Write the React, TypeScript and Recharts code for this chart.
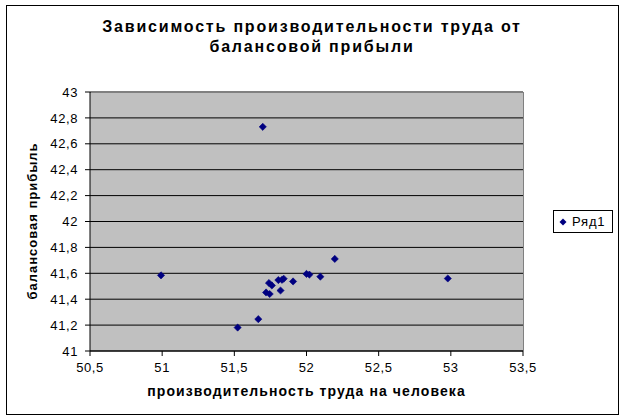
import React from "react";
import { ScatterChart, Scatter, XAxis, YAxis, CartesianGrid } from "recharts";

const productivity = [51.697, 50.992, 51.523, 51.666, 51.72, 51.745, 51.74, 51.76, 51.82, 51.805, 51.83, 51.842, 51.907, 52.0, 52.02, 52.096, 52.196, 52.979];
const profit = [42.731, 41.584, 41.181, 41.246, 41.452, 41.44, 41.525, 41.506, 41.467, 41.548, 41.55, 41.558, 41.537, 41.595, 41.59, 41.574, 41.711, 41.56];
const xTicks = [50.5, 51, 51.5, 52, 52.5, 53, 53.5];
const yTicks = [41, 41.2, 41.4, 41.6, 41.8, 42, 42.2, 42.4, 42.6, 42.8, 43];
const seriesName = "Ряд1";
const titleLines = ["Зависимость производительности труда от", "балансовой прибыли"];
const xTitle = "производительность труда на человека";
const yTitle = "балансовая прибыль";

const data = productivity.map((x, i) => ({ x, y: profit[i] }));

const fmt = (v: number) => String(v).replace(".", ",");
const FONT = "'Liberation Sans', Arial, sans-serif";

const Diamond = (props: any) => {
  const { cx, cy } = props;
  if (cx == null || cy == null) return null;
  const r = 3.6;
  return <polygon points={`${cx},${cy - r} ${cx + r},${cy} ${cx},${cy + r} ${cx - r},${cy}`} fill="#000080" stroke="#000080" strokeWidth={0.6} />;
};

export default function App() {
  return (
    <div style={{ position: "absolute", left: 0, top: 0, width: 626, height: 420, background: "#fff" }}>
      <div style={{ position: "absolute", left: 6, top: 5, width: 613, height: 410, border: "1px solid #000", boxSizing: "border-box" }} />
      <div style={{ position: "absolute", left: 0, top: 17, width: 624, textAlign: "center", fontFamily: FONT, fontWeight: "bold", fontSize: 16, letterSpacing: 1.8, lineHeight: "20px", color: "#000" }}>
        {titleLines.map((l, i) => <div key={i}>{l}</div>)}
      </div>
      <div style={{ position: "absolute", left: 90, top: 383, width: 433, textAlign: "center", fontFamily: FONT, fontWeight: "bold", fontSize: 14, letterSpacing: 1.1, color: "#000" }}>
        {xTitle}
      </div>
      <div style={{ position: "absolute", left: 33, top: 221, width: 0, height: 0 }}>
        <div style={{ position: "absolute", left: -110, top: -8, width: 220, textAlign: "center", transform: "rotate(-90deg)", fontFamily: FONT, fontWeight: "bold", fontSize: 13, letterSpacing: 1, lineHeight: "16px", color: "#000" }}>
          {yTitle}
        </div>
      </div>
      <div style={{ position: "absolute", left: 0, top: 0 }}>
        <ScatterChart width={626} height={420} margin={{ top: 92, right: 103, bottom: 39, left: 30 }}>
          <CartesianGrid vertical={false} horizontal stroke="#000" strokeWidth={1} fill="#c0c0c0" fillOpacity={1} />
          <XAxis type="number" dataKey="x" domain={[50.5, 53.5]} ticks={xTicks} tickFormatter={fmt} stroke="#000" tick={{ fill: "#000", fontSize: 13, fontFamily: FONT, letterSpacing: 0.6 }} tickSize={5} tickMargin={7} height={30} interval={0} allowDataOverflow />
          <YAxis type="number" dataKey="y" domain={[41, 43]} ticks={yTicks} tickFormatter={fmt} stroke="#000" tick={{ fill: "#000", fontSize: 13, fontFamily: FONT, letterSpacing: 0.6 }} tickSize={5} tickMargin={7} width={60} interval={0} allowDataOverflow />
          <Scatter name={seriesName} data={data} shape={<Diamond />} isAnimationActive={false} />
        </ScatterChart>
      </div>
      <div style={{ position: "absolute", left: 523, top: 92, width: 1, height: 259, background: "#808080" }} />
      <div style={{ position: "absolute", left: 91, top: 92, width: 433, height: 1, background: "#808080" }} />
      <div style={{ position: "absolute", left: 553, top: 210, border: "1px solid #000", width: 60, height: 23, boxSizing: "border-box", display: "flex", alignItems: "center", fontFamily: FONT, fontSize: 13, color: "#000", background: "#fff" }}>
        <svg width={14} height={10} style={{ marginLeft: 4 }}>
          <polygon points="5,1.5 8.5,5 5,8.5 1.5,5" fill="#000080" />
        </svg>
        <span style={{ letterSpacing: 0.8 }}>{seriesName}</span>
      </div>
    </div>
  );
}
